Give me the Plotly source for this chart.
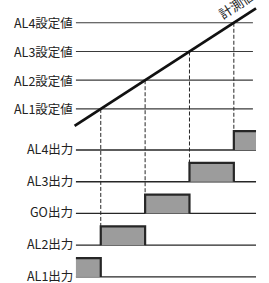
import plotly.graph_objects as go

# ---- data ----
setpoint_labels = ["AL1設定値", "AL2設定値", "AL3設定値", "AL4設定値"]
setpoint_values = [1, 2, 3, 4]

measured_label = "計測値"
measured_time = [0.41, 4.5]
measured_value = [0.41, 4.5]

output_labels = ["AL1出力", "AL2出力", "GO出力", "AL3出力", "AL4出力"]
output_on_start = [0.44, 1, 2, 3, 4]
output_on_end = [1, 2, 3, 4, 4.5]

# ---- layout constants ----
T_LINE_START = 0.44
T_SP_END = 4.43
T_OUT_END = 4.5
ROW_BASE0 = -4.85
ROW_STEP = 1.105
BOX_H = 0.655
LABEL_X = 0.415
FONT = "Noto Sans CJK JP"
DARK = "#262626"

fig = go.Figure()

# setpoint horizontal lines
for v in setpoint_values:
    fig.add_trace(go.Scatter(x=[T_LINE_START, T_SP_END], y=[v, v], mode="lines",
                             line=dict(color="#3a3a3a", width=1.2), hoverinfo="skip"))

rows = [ROW_BASE0 + i * ROW_STEP for i in range(len(output_labels))]

# dashed drop lines: from setpoint crossing down to top of the box that starts there
for k, v in enumerate(setpoint_values):
    top = rows[k + 1] + BOX_H
    fig.add_trace(go.Scatter(x=[v, v], y=[v, top], mode="lines",
                             line=dict(color=DARK, width=1, dash="4px,2px"), hoverinfo="skip"))

# output baselines and boxes
for i, (s, e) in enumerate(zip(output_on_start, output_on_end)):
    base = rows[i]
    fig.add_trace(go.Scatter(x=[T_LINE_START, T_OUT_END], y=[base, base], mode="lines",
                             line=dict(color=DARK, width=1.3), hoverinfo="skip"))
    top = base + BOX_H
    fig.add_trace(go.Scatter(x=[s, s, e, e, s], y=[base, top, top, base, base], mode="lines",
                             fill="toself", fillcolor="#9c9c9c", line=dict(width=0),
                             hoverinfo="skip"))
    ox, oy = [], []
    if s > T_LINE_START:
        ox += [s]; oy += [base]
    ox += [s, e]; oy += [top, top]
    if e < T_OUT_END:
        ox += [e]; oy += [base]
    fig.add_trace(go.Scatter(x=ox, y=oy, mode="lines",
                             line=dict(color=DARK, width=2.2), hoverinfo="skip"))

# measured value line
fig.add_trace(go.Scatter(x=measured_time, y=measured_value, mode="lines",
                         line=dict(color="#111111", width=2.8), hoverinfo="skip"))

annotations = []
for lab, v in zip(setpoint_labels, setpoint_values):
    annotations.append(dict(x=LABEL_X, y=v, xref="x", yref="y", text=lab, showarrow=False,
                            xanchor="right", yanchor="middle",
                            font=dict(family=FONT, size=12.5, color="#222")))
for lab, r in zip(output_labels, rows):
    annotations.append(dict(x=LABEL_X, y=r, xref="x", yref="y", text=lab, showarrow=False,
                            xanchor="right", yanchor="middle", yshift=1.5,
                            font=dict(family=FONT, size=12.5, color="#222")))
annotations.append(dict(x=4.05, y=4.63, xref="x", yref="y", text=measured_label, showarrow=False,
                        textangle=-33, xanchor="center", yanchor="middle",
                        font=dict(family=FONT, size=13, color="#222")))

fig.update_layout(
    width=269, height=283, autosize=False,
    margin=dict(l=0, r=0, t=0, b=0),
    paper_bgcolor="white", plot_bgcolor="white",
    showlegend=False,
    xaxis=dict(range=[-1.2714, 4.7926], visible=False, fixedrange=True),
    yaxis=dict(range=[-5.061, 4.793], visible=False, fixedrange=True),
    annotations=annotations,
)

fig.write_html("out.html", config={"displayModeBar": False},
               post_script="document.body.style.margin='0';document.body.style.overflow='hidden';")
